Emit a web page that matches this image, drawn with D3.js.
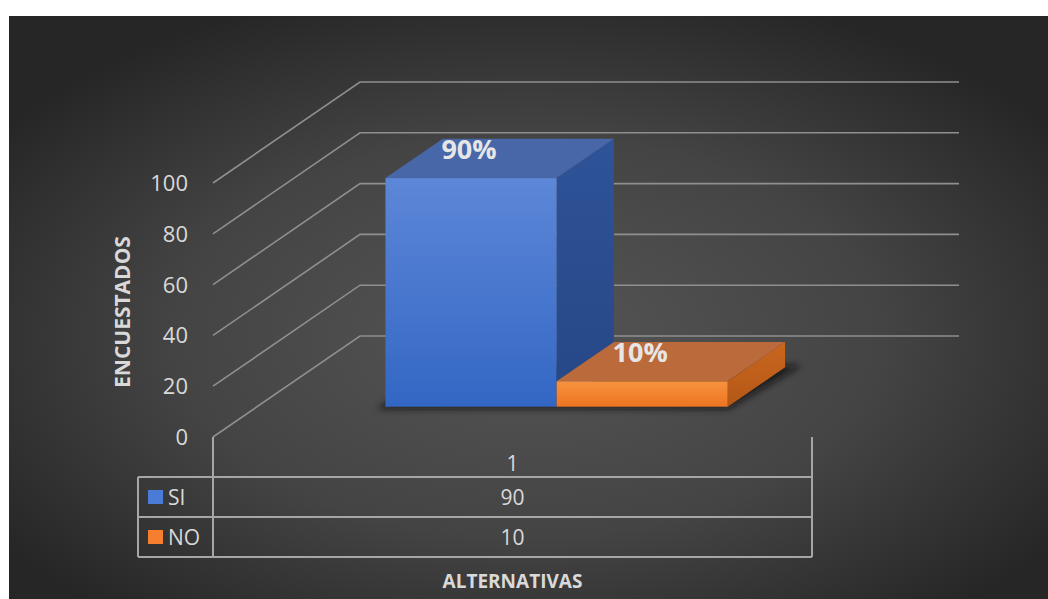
<!DOCTYPE html>
<html>
<head>
<meta charset="utf-8">
<script src="https://cdn.jsdelivr.net/npm/d3@7"></script>
<style>
  html, body { margin: 0; padding: 0; background: #ffffff; }
  svg { display: block; }
  text { font-family: "Open Sans", "Lato", sans-serif; }
</style>
</head>
<body>
<svg id="chart" width="1048" height="599"></svg>
<script>
// ---- data ----
const categories = ["1"];
const seriesNames = ["SI", "NO"];
const seriesValues = [90, 10];
const seriesLabels = ["90%", "10%"];
const yTicks = [0, 20, 40, 60, 80, 100];

// ---- layout ----
const W = 1048, H = 599;
const frame = { x: 9, y: 16 };
const plot = { left: 213, right: 812, bottom: 437, top: 183 };
const depth = { dx: 147, dy: -101 };   // screen offset of the back wall
const barDepth = [0.3, 0.69];          // bar front/back as fraction of depth

const colors = {
  SI: { front: ["#5d87d8", "#3367c4"], top: "#4867a9", side: ["#2f5398", "#264786"] },
  NO: { front: ["#f7923f", "#ee7422"], top: "#bb6a3b", side: ["#c9661f", "#b45816"] }
};

const svg = d3.select("#chart");
const defs = svg.append("defs");

// background
const bg = defs.append("radialGradient").attr("id", "bg")
  .attr("cx", 0.5).attr("cy", 0.55).attr("r", 0.62);
bg.append("stop").attr("offset", 0).attr("stop-color", "#555555");
bg.append("stop").attr("offset", 0.55).attr("stop-color", "#444444");
bg.append("stop").attr("offset", 1).attr("stop-color", "#262626");
svg.append("rect").attr("x", frame.x).attr("y", frame.y)
  .attr("width", W - frame.x).attr("height", H - frame.y).attr("fill", "url(#bg)");

// gradients for bar faces
seriesNames.forEach(s => {
  const gf = defs.append("linearGradient").attr("id", "front-" + s)
    .attr("x1", 0).attr("y1", 0).attr("x2", 0).attr("y2", 1);
  gf.append("stop").attr("offset", 0).attr("stop-color", colors[s].front[0]);
  gf.append("stop").attr("offset", 1).attr("stop-color", colors[s].front[1]);
  const gs = defs.append("linearGradient").attr("id", "side-" + s)
    .attr("x1", 0).attr("y1", 0).attr("x2", 0).attr("y2", 1);
  gs.append("stop").attr("offset", 0).attr("stop-color", colors[s].side[0]);
  gs.append("stop").attr("offset", 1).attr("stop-color", colors[s].side[1]);
});
defs.append("filter").attr("id", "soft").attr("x", "-20%").attr("y", "-50%")
  .attr("width", "140%").attr("height", "200%")
  .append("feGaussianBlur").attr("stdDeviation", 3.5);

// ---- scales ----
const x = d3.scaleBand().domain(categories).range([plot.left, plot.right]);
// gap width 150% of a bar: 2 bars + 1.5 bar widths of gap per category
const barW = x.bandwidth() / (seriesNames.length + 1.5);
const xs = d3.scaleBand().domain(seriesNames)
  .range([0, barW * seriesNames.length]);
const y = d3.scaleLinear().domain([0, 100]).range([plot.bottom, plot.top]);

const proj = (px, v, z) => [px + z * depth.dx, y(v) + z * depth.dy];

// ---- gridlines (side wall + back wall) ----
const gridColor = "#8f8f8f";
svg.append("g").selectAll("polyline").data(yTicks).join("polyline")
  .attr("points", d => {
    const a = proj(plot.left, d, 0), b = proj(plot.left, d, 1), c = proj(plot.right, d, 1);
    return [a, b, c].map(p => p.join(",")).join(" ");
  })
  .attr("fill", "none").attr("stroke", gridColor).attr("stroke-width", 1.6);

// y tick labels
svg.append("g").selectAll("text").data(yTicks).join("text")
  .attr("x", plot.left - 25).attr("y", d => y(d))
  .attr("dy", "0.36em").attr("text-anchor", "end")
  .attr("fill", "#d9d9d9").attr("font-size", 22)
  .text(d => d);

// y axis title
svg.append("text")
  .attr("transform", `translate(130,${(plot.top + plot.bottom) / 2 + 2}) rotate(-90)`)
  .attr("text-anchor", "middle").attr("fill", "#d9d9d9")
  .attr("font-size", 21).attr("font-weight", "bold")
  .text("ENCUESTADOS");

// ---- bars ----
const bars = seriesNames.map((s, i) => {
  const x0 = x(categories[0]) + (x.bandwidth() - barW * seriesNames.length) / 2 + xs(s);
  return { s, v: seriesValues[i], label: seriesLabels[i], x0, x1: x0 + xs.bandwidth() };
});
const [z0, z1] = barDepth;

// soft floor shadow under the bars
const first = bars[0], last = bars[bars.length - 1];
const sh = [
  proj(first.x0 - 6, 0, z0 - 0.02), proj(last.x1 + 4, 0, z0 - 0.02),
  proj(last.x1 + 14, 0, z1 + 0.02), proj(first.x0 + 4, 0, z1 + 0.02)
];
svg.append("polygon").attr("points", sh.map(p => p.join(",")).join(" "))
  .attr("fill", "#0d0d0d").attr("opacity", 0.75).attr("filter", "url(#soft)");

const gBars = svg.append("g");
bars.forEach(b => {
  const g = gBars.append("g");
  const side = [proj(b.x1, b.v, z0), proj(b.x1, 0, z0), proj(b.x1, 0, z1), proj(b.x1, b.v, z1)];
  g.append("polygon").attr("points", side.map(p => p.join(",")).join(" "))
    .attr("fill", `url(#side-${b.s})`);
  const top = [proj(b.x0, b.v, z0), proj(b.x1, b.v, z0), proj(b.x1, b.v, z1), proj(b.x0, b.v, z1)];
  g.append("polygon").attr("points", top.map(p => p.join(",")).join(" "))
    .attr("fill", colors[b.s].top);
  const f0 = proj(b.x0, b.v, z0), f1 = proj(b.x1, 0, z0);
  g.append("rect").attr("x", f0[0]).attr("y", f0[1])
    .attr("width", f1[0] - f0[0]).attr("height", f1[1] - f0[1])
    .attr("fill", `url(#front-${b.s})`);
});

// data labels
svg.append("g").selectAll("text").data(bars).join("text")
  .attr("x", d => (proj(d.x0, d.v, z0)[0] + proj(d.x1, d.v, z0)[0]) / 2 - 2)
  .attr("y", d => proj(d.x0, d.v, z0)[1] - 29)
  .attr("dy", "0.36em").attr("text-anchor", "middle")
  .attr("fill", "#e6e6e6").attr("font-size", 27).attr("font-weight", "bold")
  .text(d => d.label);

// ---- data table ----
const tableLeft = 138;
const rowH = 40;
const headerTop = plot.bottom;
const rowsTop = headerTop + rowH;
const tableBottom = rowsTop + rowH * seriesNames.length;
const lineColor = "#a6a6a6";
const tg = svg.append("g").attr("stroke", lineColor).attr("stroke-width", 2).attr("fill", "none");
// verticals
tg.append("line").attr("x1", plot.left).attr("x2", plot.left).attr("y1", headerTop).attr("y2", tableBottom);
tg.append("line").attr("x1", plot.right).attr("x2", plot.right).attr("y1", headerTop).attr("y2", tableBottom);
tg.append("line").attr("x1", tableLeft).attr("x2", tableLeft).attr("y1", rowsTop).attr("y2", tableBottom);
// horizontals
d3.range(seriesNames.length + 1).forEach(i => {
  tg.append("line").attr("x1", tableLeft).attr("x2", plot.right)
    .attr("y1", rowsTop + i * rowH).attr("y2", rowsTop + i * rowH);
});

const cx = x(categories[0]) + x.bandwidth() / 2;
svg.append("text").attr("x", cx).attr("y", headerTop + rowH / 2 + 6)
  .attr("dy", "0.36em").attr("text-anchor", "middle")
  .attr("fill", "#d9d9d9").attr("font-size", 21).text(categories[0]);

seriesNames.forEach((s, i) => {
  const cy = rowsTop + i * rowH + rowH / 2;
  svg.append("rect").attr("x", 148).attr("y", cy - 7).attr("width", 15).attr("height", 14)
    .attr("fill", i === 0 ? "#4a7bd6" : "#f57f2e");
  svg.append("text").attr("x", 168).attr("y", cy).attr("dy", "0.36em")
    .attr("fill", "#d9d9d9").attr("font-size", 21).text(s);
  svg.append("text").attr("x", cx).attr("y", cy).attr("dy", "0.36em")
    .attr("text-anchor", "middle").attr("fill", "#d9d9d9").attr("font-size", 21)
    .text(seriesValues[i]);
});

// x axis title
svg.append("text").attr("x", cx).attr("y", 581).attr("dy", "0.36em")
  .attr("text-anchor", "middle").attr("fill", "#d9d9d9")
  .attr("font-size", 19).attr("font-weight", "bold").text("ALTERNATIVAS");
</script>
</body>
</html>
